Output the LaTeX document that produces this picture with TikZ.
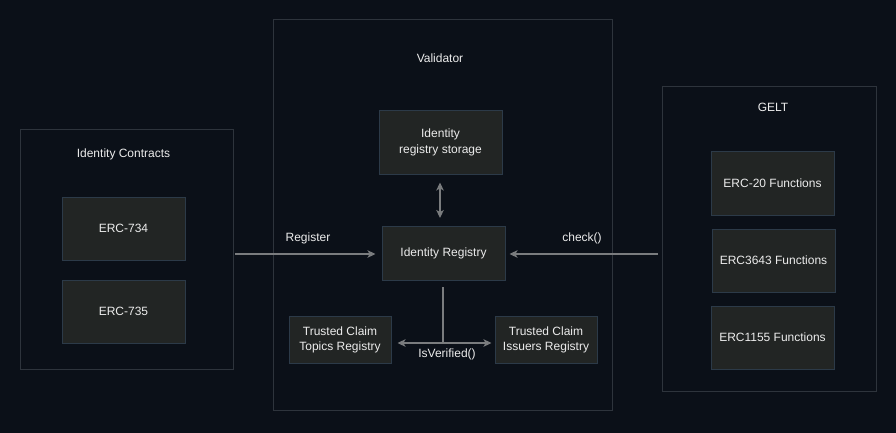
\documentclass[tikz,border=0pt]{standalone}
\usepackage{fontspec}
\setmainfont{Liberation Sans}
\usetikzlibrary{arrows.meta}
\definecolor{bg}{HTML}{0B1018}
\definecolor{cont}{HTML}{2E343C}
\definecolor{boxfill}{HTML}{222524}
\definecolor{boxline}{HTML}{2C3A48}
\definecolor{arr}{HTML}{7A7C7E}
\definecolor{txt}{HTML}{ECECEC}
\newcommand{\twolines}[2]{\raisebox{-2pt}{\begin{tabular}{@{}c@{}}#1\\#2\end{tabular}}}
\tikzset{
  container/.style={draw=cont, line width=1pt},
  fbox/.style={draw=boxline, fill=boxfill, line width=1pt, text=txt, align=center, font=\fontsize{12}{15}\selectfont, inner sep=0pt},
  lbl/.style={text=txt, font=\fontsize{12}{14}\selectfont, inner sep=0pt},
  tip/.tip={Stealth[length=8pt,width=7.5pt,inset=2pt]},
  conn/.style={draw=arr, line width=1.1pt, -tip},
  dconn/.style={draw=arr, line width=1.1pt, tip-tip},
  plain/.style={draw=arr, line width=1.1pt}
}
\begin{document}
\begin{tikzpicture}[x=1pt,y=-1pt]
\fill[bg] (0,0) rectangle (896,433);
\useasboundingbox (0,0) rectangle (896,433);
% containers
\draw[container] (20,129) rectangle (233,369);
\draw[container] (273,20) rectangle (612,410);
\draw[container] (662,87) rectangle (876,391);
\node[lbl] (tic) at (123.5,154) {Identity Contracts};
\node[lbl] (tval) at (440,58) {Validator};
\node[lbl] (tgelt) at (773,107) {GELT};
% left boxes
\node[fbox, minimum width=123pt, minimum height=63pt] (e734) at (123.5,228.5) {ERC-734};
\node[fbox, minimum width=123pt, minimum height=63pt] (e735) at (123.5,311.5) {ERC-735};
% validator boxes
\node[fbox, minimum width=123pt, minimum height=63pt] (irs) at (440.5,142.5) {\twolines{Identity}{registry storage}};
\node[fbox, minimum width=123pt, minimum height=54pt] (ir) at (443.5,253) {Identity Registry};
\node[fbox, minimum width=102pt, minimum height=47pt] (tct) at (340,339.5) {\twolines{Trusted Claim}{Topics Registry}};
\node[fbox, minimum width=102pt, minimum height=47pt] (tci) at (546,339.5) {\twolines{Trusted Claim}{Issuers Registry}};
% GELT boxes
\node[fbox, minimum width=123pt, minimum height=64pt] (e20) at (772.5,183) {ERC-20 Functions};
\node[fbox, minimum width=123pt, minimum height=63pt] (e3643) at (773.5,260.5) {ERC3643 Functions};
\node[fbox, minimum width=123pt, minimum height=63pt] (e1155) at (772.5,337.5) {ERC1155 Functions};
% connectors
\coordinate (regS) at (235,254);
\coordinate (chkS) at (658,254);
\coordinate (jn) at (443,343);
\coordinate (irb) at (443,287);
\draw[conn] (regS) -- ([xshift=-6pt]ir.west |- regS);
\draw[conn] (chkS) -- ([xshift=4pt]ir.east |- chkS);
\draw[dconn] ([yshift=-8pt]irs.south -| 440,0) -- ([yshift=8pt]440,226);
\draw[plain] (irb) -- (jn);
\draw[conn] (jn) -- ([xshift=6pt]tct.east |- jn);
\draw[conn] (jn) -- ([xshift=-3pt]tci.west |- jn);
\node[lbl] (lreg) at (308,238.5) {Register};
\node[lbl] (lchk) at (582,238.5) {check()};
\node[lbl] (liv) at (447,354.5) {IsVerified()};
\end{tikzpicture}
\end{document}
